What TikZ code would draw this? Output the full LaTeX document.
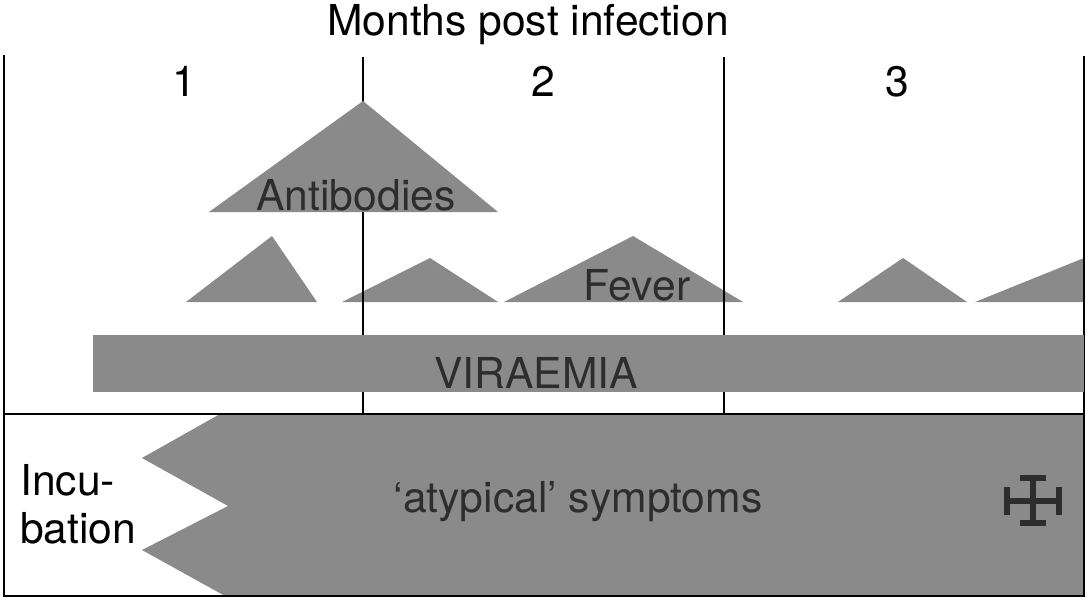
\documentclass[tikz,border=0pt]{standalone}
\usepackage{fontspec}
\setmainfont{TeX Gyre Heros}
\usetikzlibrary{positioning}

\definecolor{shade}{RGB}{138,138,138}
\definecolor{ink}{RGB}{45,45,45}

\tikzset{
  lbl/.style={font=\fontsize{42.6}{48}\selectfont, anchor=base, inner sep=0pt},
  inlbl/.style={lbl, text=ink},
  blob/.style={fill=shade, draw=none},
  rule/.style={line width=2pt, black},
}

\begin{document}
\begin{tikzpicture}[x=1pt, y=-1pt]
\useasboundingbox (0,0) rectangle (1091,599);

% bottom band with the zigzag edge
\fill[blob] (220,414) -- (142,458) -- (228,506) -- (142,550) -- (225,596)
  -- (1084,596) -- (1084,414) -- cycle;

% fever peaks
\fill[blob] (186,302) -- (272,236) -- (317,302) -- cycle;
\fill[blob] (342,302) -- (430,258) -- (498,302) -- cycle;
\fill[blob] (504,302) -- (633,236) -- (743,302) -- cycle;
\fill[blob] (838,302) -- (903,258) -- (967,302) -- cycle;
\fill[blob] (975,302) -- (1084,258) -- (1084,302) -- cycle;

% month boundaries and frame
\draw[rule] (363,57) -- (363,414);
\draw[rule] (724,57) -- (724,414);
\draw[rule] (4,55) -- (4,596) -- (1084,596) -- (1084,56);
\draw[rule] (4,414) -- (1084,414);

% antibodies and viraemia
\fill[blob] (209,212) -- (363,101) -- (498,212) -- cycle;
\fill[blob] (93,335) rectangle (1084,392);

\node[lbl] (title) at (528,36) {Months post infection};
\node[lbl] (m1) at (184,96) {1};
\node[lbl] (m2) at (543,96) {2};
\node[lbl] (m3) at (897,97) {3};

\node[inlbl] (antib) at (356,210) {Antibodies};
\node[inlbl] (fever) at (637,300) {Fever};
\node[inlbl] (viraemia) at (536,388) {VIRAEMIA};
\node[inlbl] (sympt) at (578,512) {`atypical' symptoms};
\node[lbl, anchor=base west] (incu) at (20,495) {Incu-};
\node[lbl, anchor=base west] (bation) at (20,543) {bation};

% cross
\draw[ink, line width=6pt]
  (1033,478) -- (1033,523)
  (1020,478) -- (1046,478)
  (1020,523) -- (1046,523)
  (1007,501) -- (1059,501)
  (1007,487) -- (1007,515)
  (1059,487) -- (1059,515);
\end{tikzpicture}
\end{document}
